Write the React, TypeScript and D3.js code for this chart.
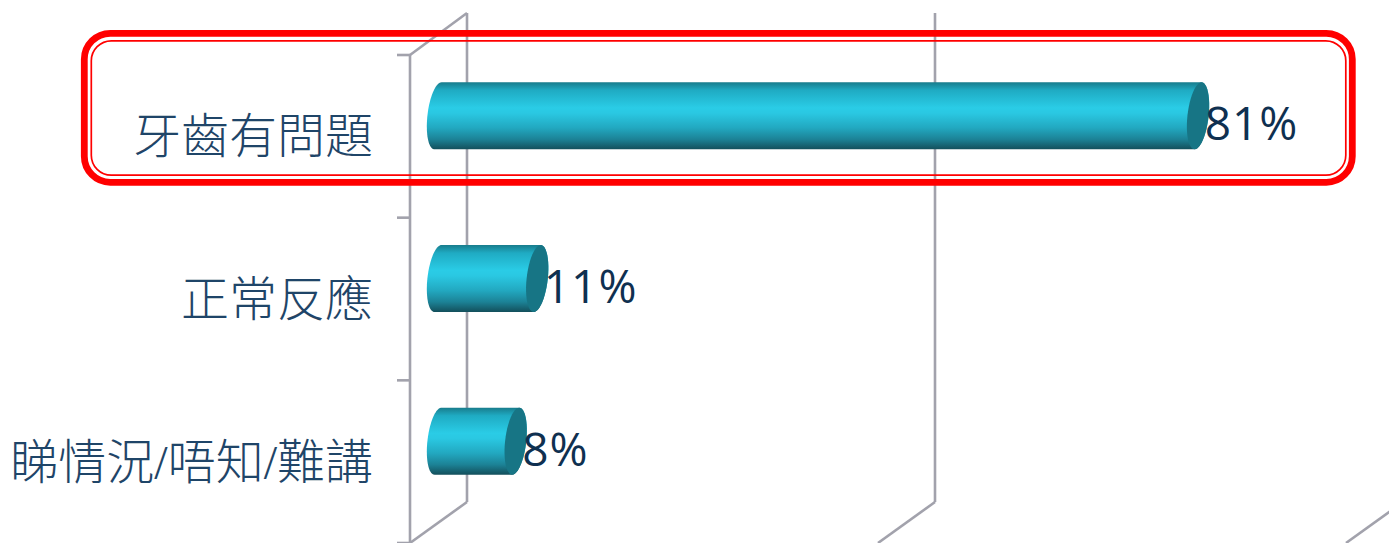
import React from "react";
import * as d3 from "d3";

const categories = ["牙齒有問題", "正常反應", "睇情況/唔知/難講"];
const values = [81.2, 10.6, 8.3];
const axisTicks = [0, 50, 100];

const W = 1389, H = 543;
const x = d3.scaleLinear().domain([0, 100]).range([410, 1346]);
const y = d3.scaleBand<string>().domain(categories).range([55, 543]).paddingInner(0);
const depthX = 57, depthY = 41;
const barH = 67;
const rx = 10.6, shear = 0.105;
const gridColor = "#a2a2ac";
const textColor = "#1f4568";
const valueColor = "#0f3050";

function ell(cx: number, cy: number, side: "left" | "right" | "full") {
  const p = d3.path();
  const n = 48;
  const [a0, a1] = side === "left" ? [Math.PI * 0.5, Math.PI * 1.5] : side === "right" ? [-Math.PI * 0.5, Math.PI * 0.5] : [0, Math.PI * 2];
  for (let i = 0; i <= n; i++) {
    const a = a0 + ((a1 - a0) * i) / n;
    const dy = (barH / 2) * Math.sin(a);
    const px = cx + rx * Math.cos(a) - dy * shear;
    const py = cy + dy;
    if (i === 0) p.moveTo(px, py);
    else p.lineTo(px, py);
  }
  return p.toString();
}

function barPath(x0: number, x1: number, cy: number) {
  return ell(x0, cy, "left") + ell(x1, cy, "right").replace(/^M/, "L") + "Z";
}

export default function App() {
  return (
    <svg width={W} height={H} viewBox={`0 0 ${W} ${H}`} style={{ position: "absolute", left: 0, top: 0, display: "block", background: "#fff" }}>
      <defs>
        <linearGradient id="cyl" x1="0" y1="0" x2="0" y2="1">
          <stop offset="0" stopColor="#187c8c" />
          <stop offset="0.12" stopColor="#1fabc3" />
          <stop offset="0.38" stopColor="#2accE6" />
          <stop offset="0.46" stopColor="#2ac8e2" />
          <stop offset="0.68" stopColor="#22a8c0" />
          <stop offset="0.85" stopColor="#1c8296" />
          <stop offset="1" stopColor="#134f5b" />
        </linearGradient>
      </defs>
      {axisTicks.map((t) => {
        const fx = x(t);
        const top = y.range()[0];
        const bot = y.range()[1];
        return (
          <g key={t} stroke={gridColor} strokeWidth={2.6} fill="none" strokeLinejoin="round">
            <line x1={fx + depthX} x2={fx + depthX} y1={top - depthY - 1} y2={bot - depthY} />
            <line x1={fx + depthX} x2={fx} y1={bot - depthY} y2={bot} />
          </g>
        );
      })}
      <g stroke={gridColor} strokeWidth={2.6} fill="none">
        <line x1={x(0)} x2={x(0)} y1={y.range()[0]} y2={y.range()[1]} />
        <line x1={x(0)} x2={x(0) + depthX} y1={y.range()[0]} y2={y.range()[0] - depthY - 1} />
        {d3.range(categories.length + 1).map((i) => {
          const ty = y.range()[0] + i * y.step();
          return <line key={i} x1={x(0) - 13} x2={x(0)} y1={ty} y2={ty} />;
        })}
      </g>
      {categories.map((c, i) => {
        const cy = (y(c) as number) + y.bandwidth() / 2 - depthY / 2;
        const x0 = x(0) + depthX / 2 - 0.5;
        const x1 = x(values[i]) + depthX / 2 - 0.5;
        return (
          <g key={c}>
            <path d={barPath(x0, x1, cy)} fill="url(#cyl)" />
            <path d={ell(x1, cy, "full") + "Z"} fill="#177585" />
          </g>
        );
      })}
      {categories.map((c) => (
        <text key={c} x={373} y={(y(c) as number) + y.bandwidth() / 2 + 17} textAnchor="end"
          fontFamily="'Liberation Serif','Noto Sans CJK TC',serif" fontSize={48} fontWeight={300} fill={textColor}>
          {c}
        </text>
      ))}
      {categories.map((c, i) => (
        <text key={c + "v"} x={x(values[i]) + depthX / 2 - 0.5 + rx - 4} y={(y(c) as number) + y.bandwidth() / 2 + 4}
          fontFamily="'Open Sans',Lato,sans-serif" fontSize={46} letterSpacing={1} fill={valueColor}>
          {d3.format(".0f")(values[i])}%
        </text>
      ))}
      <g fill="none" stroke="#ff0000">
        <rect x={84.3} y={33.3} width={1268} height={149} rx={26} strokeWidth={6.8} />
        <rect x={91.3} y={40.8} width={1254.5} height={134.4} rx={20} strokeWidth={1.7} />
      </g>
    </svg>
  );
}
